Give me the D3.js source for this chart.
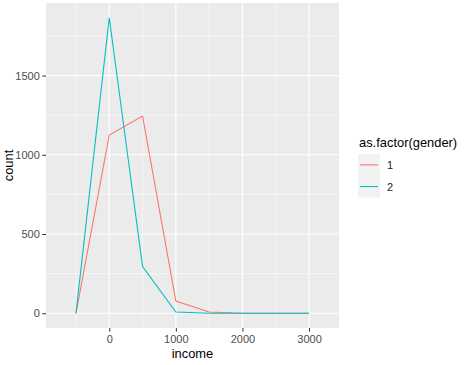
<!DOCTYPE html>
<html>
<head>
<meta charset="utf-8">
<script src="https://cdn.jsdelivr.net/npm/d3@7"></script>
<style>
  body { margin: 0; background: #fff; }
  text { font-family: "Liberation Sans", Arial, sans-serif; }
</style>
</head>
<body>
<div id="chart"></div>
<script>
// bin centres (binwidth 500) and counts per gender
var income = [-500, 0, 500, 1000, 1500, 2000, 2500, 3000];
var gender1 = [0, 1125, 1245, 77, 8, 0, 0, 0];
var gender2 = [0, 1865, 295, 8, 0, 0, 0, 0];
var groups = ["1", "2"];
var colors = ["#F8766D", "#00BFC4"];
var binWidth = 500;
var xBreaks = [0, 1000, 2000, 3000];
var yBreaks = [0, 500, 1000, 1500];

var width = 468, height = 365;
var panel = { left: 46, right: 339, top: 3, bottom: 328 };

var svg = d3.select("#chart").append("svg")
    .attr("width", width)
    .attr("height", height);

// scale limits: bin edges / data range, expanded by 5%
var xmin = d3.min(income) - binWidth / 2, xmax = d3.max(income) + binWidth / 2;
var xpad = (xmax - xmin) * 0.05;
var ymax = d3.max(gender1.concat(gender2));
var ypad = ymax * 0.05;

var x = d3.scaleLinear().domain([xmin - xpad, xmax + xpad]).range([panel.left, panel.right]);
var y = d3.scaleLinear().domain([-ypad, ymax + ypad]).range([panel.bottom, panel.top]);

svg.append("rect")
    .attr("x", panel.left)
    .attr("y", panel.top)
    .attr("width", panel.right - panel.left)
    .attr("height", panel.bottom - panel.top)
    .style("fill", "#EBEBEB");

// minor grid
var xMinor = d3.range(-500, 3500, 1000);
var yMinor = d3.range(250, 2000, 500);
var grid = svg.append("g");
grid.selectAll(".xminor").data(xMinor).enter().append("line")
    .attr("x1", function (d) { return x(d); }).attr("x2", function (d) { return x(d); })
    .attr("y1", panel.top).attr("y2", panel.bottom)
    .style("stroke", "#fff").style("stroke-width", 0.55);
grid.selectAll(".yminor").data(yMinor).enter().append("line")
    .attr("y1", function (d) { return y(d); }).attr("y2", function (d) { return y(d); })
    .attr("x1", panel.left).attr("x2", panel.right)
    .style("stroke", "#fff").style("stroke-width", 0.55);
// major grid
grid.selectAll(".xmajor").data(xBreaks).enter().append("line")
    .attr("x1", function (d) { return x(d); }).attr("x2", function (d) { return x(d); })
    .attr("y1", panel.top).attr("y2", panel.bottom)
    .style("stroke", "#fff").style("stroke-width", 1.1);
grid.selectAll(".ymajor").data(yBreaks).enter().append("line")
    .attr("y1", function (d) { return y(d); }).attr("y2", function (d) { return y(d); })
    .attr("x1", panel.left).attr("x2", panel.right)
    .style("stroke", "#fff").style("stroke-width", 1.1);

// freqpoly lines
var series = [gender1, gender2];
var line = d3.line()
    .x(function (d, i) { return x(income[i]); })
    .y(function (d) { return y(d); });
series.forEach(function (s, i) {
    svg.append("path")
        .attr("d", line(s))
        .style("fill", "none")
        .style("stroke", colors[i])
        .style("stroke-width", 1.1);
});

// axes
var fmt = d3.format("d");
var xAxis = d3.axisBottom(x).tickValues(xBreaks).tickFormat(fmt).tickSize(3.7).tickPadding(3);
var yAxis = d3.axisLeft(y).tickValues(yBreaks).tickFormat(fmt).tickSize(3.7).tickPadding(2.5);
var gx = svg.append("g").attr("transform", "translate(0," + panel.bottom + ")").call(xAxis);
var gy = svg.append("g").attr("transform", "translate(" + panel.left + ",0)").call(yAxis);
[gx, gy].forEach(function (g) {
    g.select(".domain").remove();
    g.selectAll(".tick line").style("stroke", "#333333").style("stroke-width", 1);
    g.selectAll(".tick text").style("fill", "#4D4D4D").style("font-size", "11px")
        .style("font-family", "'Liberation Sans', Arial, sans-serif");
});

svg.append("text")
    .attr("x", (panel.left + panel.right) / 2)
    .attr("y", 358)
    .attr("text-anchor", "middle")
    .style("font-size", "12.9px")
    .text("income");

svg.append("text")
    .attr("transform", "translate(13," + ((panel.top + panel.bottom) / 2) + ") rotate(-90)")
    .attr("text-anchor", "middle")
    .style("font-size", "12.9px")
    .text("count");

// legend
var legend = svg.append("g").attr("transform", "translate(358,147)");
legend.append("text")
    .attr("x", 1).attr("y", 0)
    .style("font-size", "12.9px")
    .text("as.factor(gender)");
var keyH = 21.7;
groups.forEach(function (g, i) {
    var ky = 7 + i * keyH;
    legend.append("rect")
        .attr("x", 0).attr("y", ky)
        .attr("width", 22).attr("height", keyH)
        .style("fill", "#F2F2F2");
    legend.append("line")
        .attr("x1", 2).attr("x2", 20)
        .attr("y1", ky + keyH / 2).attr("y2", ky + keyH / 2)
        .style("stroke", colors[i]).style("stroke-width", 1.1);
    legend.append("text")
        .attr("x", 29).attr("y", ky + keyH / 2 + 4)
        .style("font-size", "11px")
        .style("fill", "#1A1A1A")
        .text(g);
});
</script>
</body>
</html>
